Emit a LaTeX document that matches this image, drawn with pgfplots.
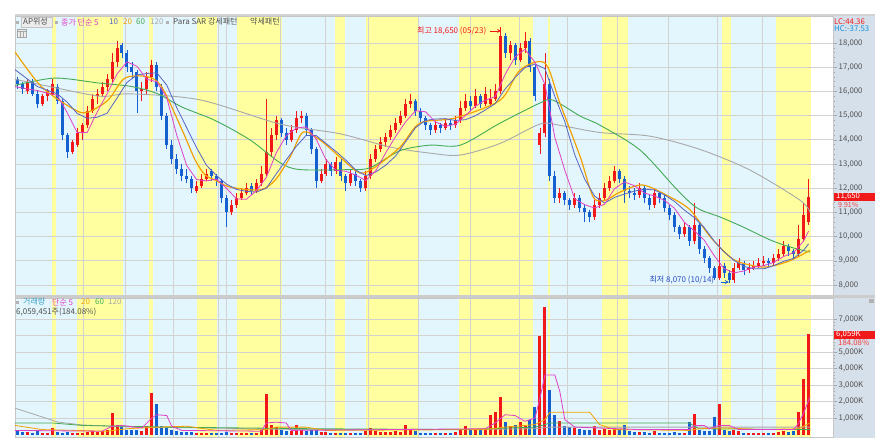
\documentclass[border=0pt]{standalone}
\usepackage{fontspec}
\setmainfont{Noto Sans CJK KR}
\usepackage{pgfplots}
\usepackage{pgfplotstable}
\pgfplotsset{compat=1.18}

\definecolor{bandY}{HTML}{FFFFA0}
\definecolor{bandB}{HTML}{E3F6FD}
\definecolor{gridc}{HTML}{D2D2D2}
\definecolor{panel}{HTML}{D6E0EB}
\definecolor{upc}{HTML}{F01818}
\definecolor{dnc}{HTML}{1560D0}
\definecolor{ma5}{HTML}{E040C8}
\definecolor{ma10}{HTML}{5464C4}
\definecolor{ma20}{HTML}{F2A200}
\definecolor{ma60}{HTML}{44AA55}
\definecolor{ma120}{HTML}{A8A8A8}
\definecolor{txt}{HTML}{505050}
\definecolor{teal}{HTML}{3AA0C8}

% prices in thousands of won, volume in millions of shares
\pgfplotstableread{
i o h l c v
0 16.5 16.6 16.1 16.3 0.22
1 16.3 16.4 15.9 16.1 0.15
2 16.0 16.5 15.9 16.4 0.18
3 16.4 16.5 15.8 15.9 0.12
4 15.9 16.0 15.3 15.5 0.2
5 15.5 15.9 15.4 15.8 0.12
6 15.8 16.1 15.6 16.0 0.1
7 15.9 16.5 15.8 16.3 0.4
8 16.2 16.3 15.5 15.6 0.15
9 15.6 15.7 14.0 14.2 0.12
10 14.2 14.3 13.25 13.5 0.15
11 13.5 14.0 13.4 13.9 0.1
12 13.8 14.5 13.7 14.3 0.12
13 14.3 14.7 14.0 14.6 0.1
14 14.6 15.4 14.5 15.2 0.15
15 15.2 15.9 15.1 15.7 0.2
16 15.8 16.1 15.5 15.9 0.15
17 15.9 16.4 15.8 16.2 0.2
18 16.2 16.7 16.0 16.5 0.25
19 16.5 17.6 16.4 17.2 1.3
20 17.2 18.1 17.0 17.8 0.6
21 17.9 18.0 17.4 17.6 0.45
22 17.6 17.7 16.8 17.0 0.3
23 17.0 17.2 16.5 16.8 0.25
24 16.8 16.9 15.1 16.0 0.3
25 16.0 16.4 15.6 16.1 0.2
26 16.1 16.8 15.9 16.6 0.5
27 16.6 17.3 16.4 17.1 2.5
28 17.1 17.2 16.0 16.2 1.85
29 16.2 16.3 14.8 15.0 0.5
30 15.0 15.1 13.6 13.8 0.4
31 13.8 14.0 13.0 13.2 0.3
32 13.2 13.4 12.6 12.8 0.2
33 12.8 13.0 12.3 12.5 0.15
34 12.5 12.8 12.2 12.4 0.15
35 12.4 12.5 11.8 12.0 0.15
36 11.9 12.3 11.8 12.1 0.12
37 12.1 12.6 12.0 12.4 0.12
38 12.4 12.8 12.3 12.6 0.1
39 12.7 12.8 12.3 12.5 0.08
40 12.5 12.6 12.1 12.3 0.08
41 12.3 12.4 11.4 11.6 0.1
42 11.6 11.7 10.4 11.0 0.15
43 11.0 11.5 10.9 11.3 0.1
44 11.3 11.8 11.2 11.6 0.1
45 11.6 12.0 11.5 11.8 0.12
46 11.8 12.2 11.7 12.0 0.1
47 12.1 12.2 11.7 11.9 0.08
48 11.9 12.4 11.8 12.2 0.12
49 12.2 12.9 12.1 12.6 0.25
50 12.6 15.7 12.5 13.5 2.45
51 13.5 14.5 13.3 14.2 0.55
52 14.2 15.0 14.0 14.8 0.45
53 14.8 14.9 14.1 14.3 0.3
54 14.3 14.5 13.8 14.0 0.2
55 14.0 14.6 13.9 14.4 0.2
56 14.4 15.2 14.3 14.9 0.55
57 14.9 15.2 14.7 15.0 0.25
58 15.0 15.1 14.2 14.4 0.2
59 14.4 14.5 13.4 13.6 0.25
60 13.6 13.7 12.0 12.3 0.3
61 12.3 12.8 12.2 12.6 0.15
62 12.6 13.2 12.5 13.0 0.15
63 13.0 13.1 12.5 12.7 0.1
64 12.7 13.3 12.6 13.1 0.12
65 13.1 13.2 12.3 12.5 0.1
66 12.5 12.6 11.9 12.2 0.1
67 12.2 12.8 12.1 12.6 0.1
68 12.6 12.7 12.1 12.3 0.08
69 12.3 12.4 11.85 12.0 0.1
70 12.0 12.7 11.9 12.5 0.2
71 12.5 13.4 12.4 13.2 0.4
72 13.2 13.8 13.1 13.6 0.2
73 13.6 14.1 13.5 13.9 0.15
74 13.9 14.3 13.7 14.1 0.15
75 14.1 14.6 14.0 14.4 0.15
76 14.4 14.9 14.3 14.7 0.2
77 14.7 15.2 14.6 15.0 0.15
78 15.0 15.7 14.9 15.5 0.55
79 15.5 15.9 15.3 15.6 0.3
80 15.6 15.7 15.0 15.2 0.2
81 15.2 15.3 14.7 14.9 0.12
82 14.9 15.0 14.4 14.6 0.12
83 14.6 14.7 14.2 14.4 0.1
84 14.4 14.8 14.3 14.6 0.1
85 14.6 14.7 14.3 14.5 0.08
86 14.5 14.9 14.4 14.7 0.1
87 14.7 14.8 14.4 14.6 0.08
88 14.6 15.0 14.5 14.8 0.15
89 14.8 15.6 14.7 15.3 0.3
90 15.3 15.9 15.2 15.6 0.5
91 15.6 15.8 15.2 15.4 0.3
92 15.4 16.1 15.3 15.8 0.35
93 15.8 15.9 15.3 15.5 0.25
94 15.5 16.2 15.4 15.9 0.35
95 15.5 16.1 15.4 15.7 1.2
96 15.7 16.3 15.6 16.0 1.35
97 16.0 18.65 15.9 18.3 2.25
98 18.3 18.4 17.4 17.6 0.75
99 17.6 18.1 17.3 17.9 0.5
100 17.9 18.0 17.1 17.3 0.6
101 17.3 18.0 17.2 17.8 0.75
102 17.8 18.45 17.6 18.1 0.5
103 18.1 18.2 16.8 17.0 0.9
104 17.0 17.1 15.6 15.8 1.65
105 13.8 14.5 13.4 14.3 5.95
106 14.3 17.6 14.1 16.3 7.7
107 16.3 16.5 12.3 12.5 2.7
108 12.5 12.7 11.4 11.6 1.2
109 11.6 12.0 11.4 11.8 0.8
110 11.8 11.9 11.3 11.5 0.5
111 11.5 11.6 11.1 11.3 0.45
112 11.3 11.8 11.2 11.6 0.4
113 11.6 11.7 11.0 11.2 0.35
114 11.2 11.3 10.6 11.0 0.3
115 11.0 11.1 10.6 10.8 0.3
116 10.8 11.5 10.7 11.3 0.5
117 11.3 11.8 11.2 11.6 0.3
118 11.6 12.2 11.5 12.0 0.35
119 12.0 12.5 11.9 12.3 0.3
120 12.3 12.9 12.2 12.7 0.4
121 12.7 12.8 12.2 12.4 0.3
122 12.4 12.5 11.4 11.9 0.55
123 11.9 12.1 11.6 11.8 0.2
124 11.8 12.0 11.5 11.7 0.15
125 11.7 12.2 11.6 12.0 0.15
126 12.0 12.1 11.4 11.6 0.15
127 11.6 11.7 11.1 11.3 0.12
128 11.3 12.0 11.2 11.8 0.2
129 11.8 11.9 11.4 11.6 0.1
130 11.6 11.7 11.0 11.2 0.1
131 11.2 11.3 10.7 10.9 0.12
132 10.9 11.0 10.2 10.4 0.15
133 10.4 10.5 9.9 10.1 0.1
134 10.1 10.6 10.0 10.4 0.12
135 10.4 10.5 9.6 9.8 0.75
136 9.8 11.4 9.7 10.5 1.25
137 10.5 10.6 9.3 9.5 0.3
138 9.5 9.6 8.9 9.1 0.2
139 9.1 9.2 8.5 8.7 0.2
140 8.7 8.8 8.2 8.3 1.05
141 8.3 9.9 8.2 8.8 1.85
142 8.8 8.9 8.3 8.5 0.3
143 8.5 8.6 8.07 8.2 0.2
144 8.2 8.9 8.1 8.7 0.3
145 8.7 9.1 8.6 8.9 0.2
146 8.9 9.0 8.4 8.6 0.12
147 8.6 8.9 8.5 8.7 0.12
148 8.7 9.0 8.6 8.8 0.1
149 8.8 9.1 8.7 8.9 0.1
150 8.9 9.2 8.8 9.0 0.12
151 9.0 9.1 8.8 8.9 0.08
152 8.9 9.3 8.8 9.1 0.12
153 9.1 9.5 9.0 9.3 0.15
154 9.3 9.8 9.2 9.6 0.2
155 9.6 9.7 9.2 9.4 0.15
156 9.4 9.5 9.1 9.3 0.2
157 9.3 10.5 9.2 9.9 1.35
158 9.9 11.4 9.8 10.9 3.35
159 10.6 12.4 10.5 11.65 6.06
}\pricedata

% yellow / light blue session bands (candle index units)
\newcommand\bands[2]{%
  \fill[bandB] (axis cs:-0.5,#1) rectangle (axis cs:159.54,#2);
  \fill[bandY] (axis cs:6.93,#1) rectangle (axis cs:7.74,#2);
  \fill[bandY] (axis cs:11.96,#1) rectangle (axis cs:21.2,#2);
  \fill[bandY] (axis cs:26.43,#1) rectangle (axis cs:27.24,#2);
  \fill[bandY] (axis cs:36.08,#1) rectangle (axis cs:40.1,#2);
  \fill[bandY] (axis cs:44.12,#1) rectangle (axis cs:53.17,#2);
  \fill[bandY] (axis cs:63.8,#1) rectangle (axis cs:65.83,#2);
  \fill[bandY] (axis cs:70.05,#1) rectangle (axis cs:80.5,#2);
  \fill[bandY] (axis cs:88.74,#1) rectangle (axis cs:103.6,#2);
  \fill[bandY] (axis cs:106.63,#1) rectangle (axis cs:107.04,#2);
  \fill[bandY] (axis cs:117.5,#1) rectangle (axis cs:122.7,#2);
  \fill[bandY] (axis cs:141.6,#1) rectangle (axis cs:143.4,#2);
  \fill[bandY] (axis cs:152.5,#1) rectangle (axis cs:159.54,#2);
}
\newcommand\lblfont{\fontsize{8}{8.5}\selectfont}
\newcommand\numfont{\fontsize{7.8}{8}\selectfont}
\newcommand\tx[4]{\node[anchor=west,inner sep=0,text=#3,font=\lblfont] at (#1pt,-#2pt) {#4};}

\pgfplotsset{
  common/.style={scale only axis, width=818pt, xmin=-0.5, xmax=163.9, anchor=north west},
  pricebox/.style={at={(15pt,-16pt)}, height=279pt, ymin=7.587, ymax=19.116},
  volbox/.style={at={(15pt,-298pt)}, height=139pt, ymin=-0.15, ymax=8.27},
  gridded/.style={
    axis line style={draw=gray!45},
    xtick={13.17,21.6,31.26,40.3,41.9,52.76,61.8,70.45,80.5,90.95,100.8,110.45,120.5,130.75,140.6,149.65},
    xticklabels={}, xtick style={draw=none},
    xmajorgrids, ymajorgrids,
    grid style={draw=gridc, line width=0.7pt},
    ytick pos=right, yticklabel pos=right,
    tick align=outside, major tick length=4pt, minor tick length=2pt,
    minor y tick num=4,
    ytick style={draw=gray!70, line width=0.5pt},
    yticklabel style={font=\numfont, text=txt, inner xsep=1.5pt},
    colormap={cndl}{color=(dnc) color=(upc)},
    point meta min=0, point meta max=1,
  },
}

\begin{document}
\begin{tikzpicture}
\path[use as bounding box] (0pt,0pt) rectangle (892pt,-447pt);
\fill[panel] (833pt,-16pt) rectangle (875pt,-437.5pt);

% ---- price panel ----
\begin{axis}[common, pricebox, hide axis]
\bands{7.587}{19.116}
\end{axis}

\begin{axis}[common, pricebox, gridded,
  ytick={8,...,18},
  yticklabels={{8,000},{9,000},{10,000},{11,000},{12,000},{13,000},{14,000},{15,000},{16,000},{17,000},{18,000}},
]
\addplot[quiver={u=0, v=\thisrow{h}-\thisrow{l}, colored=mapped color,
    every arrow/.append style={line width=0.8pt}},
  point meta={\thisrow{c}>\thisrow{o}}] table[x=i, y=l] {\pricedata};
\addplot[quiver={u=0, v=\thisrow{c}-\thisrow{o}, colored=mapped color,
    every arrow/.append style={line width=3pt}},
  point meta={\thisrow{c}>\thisrow{o}}] table[x=i, y=o] {\pricedata};

\addplot[ma120, line width=0.9pt, smooth] coordinates {
(-0.5,16.5)(6.5,16.2)(16.6,15.8)(22.6,15.9)(36.7,15.65)(52.8,14.65)(64.8,14.25)(74.9,13.7)(82.9,13.45)(89,13.37)(97,13.85)(105,14.65)(109,14.6)(117.1,14.3)(127.1,14.15)(137.2,13.6)(147.2,12.75)(157.3,11.5)(159.3,11.0)};
\addplot[ma60, line width=0.9pt, smooth] coordinates {
(-0.5,16.25)(7.5,16.55)(16.2,16.35)(23,16.2)(28.2,15.9)(33.1,15.35)(39.7,14.8)(46.7,14.0)(52.8,13.05)(56.8,12.77)(66.8,12.77)(70.9,12.85)(76.9,13.55)(82.9,13.78)(89,13.78)(97,14.69)(105,15.52)(107.6,15.64)(113.1,14.98)(117.1,14.6)(125.1,13.58)(132.6,11.93)(136.6,11.18)(141.2,10.81)(145.8,10.4)(151.3,9.86)(155.3,9.57)(159.3,9.36)};
\addplot[ma20, line width=1.2pt, smooth] coordinates {
(-0.5,17.63)(4.9,16.18)(11.6,15.23)(14.2,15.15)(18.2,15.64)(21.6,16.55)(26.2,16.6)(29,16.18)(33.1,14.4)(35.7,13.17)(37.7,12.55)(39.7,12.34)(42.7,12.05)(48.7,11.93)(51.8,12.34)(54.8,13.29)(57.4,14.32)(60.8,13.99)(64.8,13.29)(68.8,12.63)(71.9,12.88)(76.9,13.7)(80.9,14.69)(87.9,14.9)(97,15.64)(101,16.88)(106,17.17)(109,15.52)(113.1,13.29)(115.7,11.64)(118.1,11.5)(121.1,11.84)(125.7,12.13)(131.1,11.64)(135.2,11.1)(139.2,10.0)(143.2,9.16)(145.8,8.9)(150.3,8.74)(155.2,9.0)(159.3,9.44)};
\addplot[ma10, line width=0.8pt] coordinates {
(-0.5,16.9)(4,16.2)(8,15.9)(10,15.55)(12,15.09)(14,14.89)(16,14.93)(18,15.1)(20,15.72)(22,16.37)(24,16.68)(26,16.74)(28,16.77)(30,16.26)(32,15.33)(34,14.5)(36,13.67)(38,12.94)(40,12.52)(42,12.17)(44,11.95)(46,11.87)(48,11.84)(50,12.0)(52,12.59)(54,13.17)(56,13.72)(58,14.18)(60,14.18)(62,13.85)(64,13.52)(66,13.16)(68,12.75)(70,12.52)(72,12.67)(74,12.95)(76,13.33)(78,13.92)(80,14.5)(82,14.8)(84,14.86)(86,14.87)(88,14.8)(90,14.83)(92,14.99)(94,15.23)(96,15.49)(98,16.1)(100,16.57)(102,16.99)(104,17.13)(106,16.94)(108,15.79)(110,14.75)(112,13.38)(114,12.37)(116,11.67)(118,11.39)(120,11.62)(122,11.76)(124,11.88)(126,11.96)(128,11.93)(130,11.73)(132,11.46)(134,11.1)(136,10.79)(138,10.38)(140,9.82)(142,9.37)(144,9.02)(146,8.77)(148,8.67)(150,8.67)(152,8.8)(154,8.98)(156,9.1)(158,9.44)(159,9.7)};
\addplot[ma5, line width=0.8pt] coordinates {
(-0.5,16.2)(2,16.1)(4,16.04)(6,15.92)(8,15.84)(10,15.12)(12,14.3)(14,14.3)(16,15.14)(18,15.9)(20,16.72)(22,17.22)(24,17.04)(26,16.5)(28,16.4)(30,15.74)(32,14.2)(34,12.94)(36,12.36)(38,12.3)(40,12.38)(42,12.0)(44,11.56)(46,11.54)(48,11.9)(50,12.44)(52,13.46)(54,14.16)(56,14.48)(58,14.54)(60,14.04)(62,13.18)(64,12.74)(66,12.7)(68,12.54)(70,12.32)(72,12.72)(74,13.46)(76,14.14)(78,14.74)(80,15.2)(82,15.16)(84,14.74)(86,14.56)(88,14.64)(90,15.0)(92,15.38)(94,15.64)(96,15.78)(98,16.7)(100,17.42)(102,17.74)(104,17.2)(106,16.3)(108,14.1)(110,12.74)(112,11.56)(114,11.32)(116,11.18)(118,11.34)(120,11.98)(122,12.26)(124,12.1)(126,11.8)(128,11.68)(130,11.5)(132,11.18)(134,10.6)(136,10.24)(138,9.86)(140,9.22)(142,8.68)(144,8.5)(146,8.58)(148,8.74)(150,8.8)(152,8.94)(154,9.18)(156,9.34)(158,9.82)(159,10.23)};

\node[anchor=west, inner sep=0, text=upc, font=\lblfont] at (axis cs:80.3,18.5) {최고 18,650 (05/23)};
\draw[upc, line width=0.8pt, -stealth] (axis cs:95.0,18.5) -- (axis cs:97.2,18.5);
\node[anchor=west, inner sep=0, text=dnc!80!violet, font=\lblfont] at (axis cs:127.0,8.21) {최저 8,070 (10/14)};
\draw[dnc, line width=0.8pt, -stealth] (axis cs:141.4,8.12) -- (axis cs:143.0,8.12);
\end{axis}

% ---- volume panel ----
\begin{axis}[common, volbox, hide axis]
\bands{-0.15}{8.27}
\end{axis}

\begin{axis}[common, volbox, gridded,
  ytick={1,...,7},
  yticklabels={{1,000K},{2,000K},{3,000K},{4,000K},{5,000K},{},{7,000K}},
]
\addplot[quiver={u=0, v=\thisrow{v}, colored=mapped color,
    every arrow/.append style={line width=3pt}},
  point meta={\thisrow{c}>\thisrow{o}}] table[x=i, y expr=0] {\pricedata};
\addplot[ma120, line width=0.8pt] coordinates {
(-0.5,1.6)(5,1.06)(8,0.76)(13,0.58)(23,0.45)(37,0.4)(57,0.3)(90,0.3)(104,0.35)(107,0.45)(159.3,0.45)};
\addplot[ma60, line width=0.8pt] coordinates {
(-0.5,0.7)(7,0.7)(13,0.55)(30,0.45)(60,0.35)(90,0.3)(104,0.45)(106,0.6)(107,0.7)(135,0.7)(137,0.35)(159.3,0.3)};
\addplot[ma20, line width=0.8pt] coordinates {
(-0.5,0.55)(5,0.3)(18,0.2)(22,0.35)(28,0.45)(34,0.5)(40,0.25)(50,0.3)(52,0.45)(58,0.45)(62,0.25)(94,0.3)(98,0.45)(104,0.6)(106,0.9)(107,1.35)(115,1.35)(117,0.6)(120,0.3)(135,0.25)(137,0.35)(142,0.4)(150,0.3)(157,0.35)(159.3,0.7)};
\addplot[ma5, line width=0.8pt] coordinates {
(-0.5,0.25)(17,0.2)(19,0.5)(21,0.55)(25,0.4)(27,1.0)(28,1.2)(30,1.15)(31,0.5)(33,0.25)(49,0.2)(50,0.7)(52,0.75)(54,0.7)(55,0.25)(94,0.35)(96,0.7)(98,1.2)(100,1.15)(102,0.8)(104,1.0)(105,2.2)(106,3.6)(108,3.6)(109,2.6)(110,0.9)(112,0.45)(125,0.3)(135,0.3)(136,0.55)(138,0.55)(139,0.35)(141,0.55)(143,0.55)(145,0.3)(156,0.3)(157,0.7)(158,1.3)(159.3,2.3)};
\end{axis}

% ---- frame lines ----
\fill[gray!35] (15pt,-14pt) rectangle (875pt,-16pt);
\fill[gray!40] (15pt,-295pt) rectangle (875pt,-297.5pt);

% ---- price legend ----
\fill[gray!60] (15.5pt,-20.5pt) rectangle (18.5pt,-23.5pt);
\filldraw[fill=gray!15, draw=gray!45] (21pt,-16.8pt) rectangle (52pt,-27.5pt);
\tx{23}{22}{txt}{AP위성}
\fill[gray!60] (55pt,-20.5pt) rectangle (58pt,-23.5pt);
\tx{61}{22}{ma5}{종가 단순 5}
\tx{109}{22}{ma10}{10}
\tx{123}{22}{ma20}{20}
\tx{136}{22}{ma60}{60}
\tx{150}{22}{ma120}{120}
\fill[gray!60] (166pt,-20.5pt) rectangle (169pt,-23.5pt);
\tx{173}{22}{txt}{Para SAR 강세패턴}
\tx{250}{22}{txt}{약세패턴}
\filldraw[fill=gray!15, draw=gray!70] (17pt,-29pt) rectangle (26pt,-37.5pt);
\draw[gray!70, line width=0.4pt] (17pt,-31.5pt) -- (26pt,-31.5pt) (20pt,-31.5pt) -- (20pt,-37.5pt) (23pt,-31.5pt) -- (23pt,-37.5pt);

% ---- volume legend ----
\fill[gray!60] (15.5pt,-300.5pt) rectangle (18.5pt,-303.5pt);
\tx{23}{302}{teal}{거래량}
\tx{52}{302}{ma5}{단순 5}
\tx{81}{302}{ma20}{20}
\tx{95}{302}{ma60}{60}
\tx{108}{302}{ma120}{120}
\tx{16}{312}{txt}{6,059,451주(184.08\%)}

% ---- right panel texts ----
\node[anchor=west, inner sep=0, text=upc, font=\numfont] at (834pt,-21.5pt) {LC:44.36};
\node[anchor=west, inner sep=0, text=dnc!70!cyan, font=\numfont] at (834pt,-29pt) {HC:-37.53};
\fill[upc] (834pt,-192.5pt) rectangle (875pt,-201pt);
\node[anchor=west, inner sep=0, text=white, font=\numfont] at (836pt,-196.7pt) {11,650};
\node[anchor=west, inner sep=0, text=upc!85, font=\fontsize{7}{7}\selectfont] at (838pt,-204.6pt) {9.91\%};
\fill[upc] (834pt,-330.5pt) rectangle (875pt,-338.5pt);
\node[anchor=west, inner sep=0, text=white, font=\numfont] at (836pt,-334.5pt) {6,059K};
\node[anchor=west, inner sep=0, text=upc!85, font=\numfont] at (838pt,-343pt) {184.08\%};
\fill[gray!60] (869pt,-299pt) rectangle (874pt,-303pt);
\end{tikzpicture}
\end{document}
